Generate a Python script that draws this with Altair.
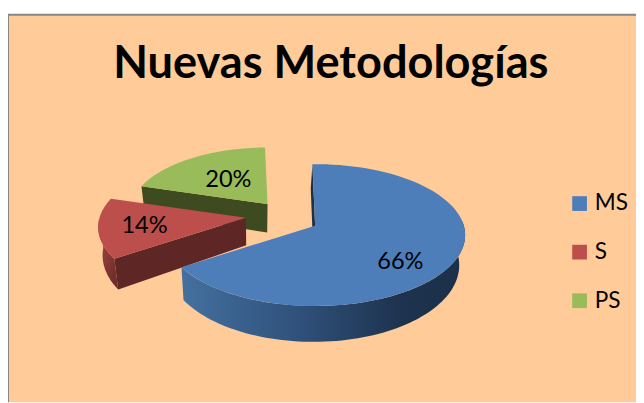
import math
import altair as alt

# ---- values ----
CATEGORIES = ["MS", "S", "PS"]
PERCENTS = [66, 14, 20]
COLORS = ["#4D7EBA", "#BC4E4B", "#9ABB59"]
TITLE = "Nuevas Metodologías"

# ---- layout (view coordinates: page minus OX, OY) ----
OX, OY = 2, 12
A, B, K = 151.5, 71.0, 0.133      # pie projection: half width, half height, perspective
START = -1.2                      # first slice start angle (degrees clockwise from top)
APEX = {"MS": (315, 227), "S": (244.5, 219), "PS": (266.5, 205)}
SCALE = {"MS": 1.0, "S": 0.985, "PS": 0.92}
DEPTH = {"MS": 30, "S": 28, "PS": 29}
LABEL_R = {"MS": 0.70, "S": 0.69, "PS": 0.54}
LABEL_DT = {"MS": 12, "S": 2, "PS": 3}
FONT = "Lato"

# slice angle spans from the values
spans = {}
a = START
for c, p in zip(CATEGORIES, PERCENTS):
    spans[c] = (a, a + p * 3.6)
    a += p * 3.6


def pt(cat, deg, r=1.0):
    t = math.radians(deg)
    u, v = math.sin(t) * r, -math.cos(t) * r
    d = 1 - K * v
    ax, ay = APEX[cat]
    s = SCALE[cat]
    return (ax + s * A * u / d - OX, ay + s * B * v / d - OY)


def low(cat, p):
    ay = APEX[cat][1] - OY
    x, y = p
    return (x + (251 - x) * 0.028, y + DEPTH[cat] + 0.08 * (y - ay))


def arc(cat, a0, a1, n=80):
    return [pt(cat, a0 + (a1 - a0) * i / n) for i in range(n + 1)]


def feature(points, cat=""):
    ring = [list(p) for p in points] + [list(points[0])]
    return {"type": "Feature", "properties": {"cat": cat},
            "geometry": {"type": "Polygon", "coordinates": [ring]}}


def data(feats):
    return alt.InlineData(values={"type": "FeatureCollection", "features": feats},
                          format=alt.DataFormat(type="json", property="features"))


def wedge(cat):
    a0, a1 = spans[cat]
    return [pt(cat, 0, 0)] + arc(cat, a0, a1)


def radial_face(cat, deg):
    ap, rim = pt(cat, 0, 0), pt(cat, deg)
    return [ap, rim, low(cat, rim), low(cat, ap)]


def outer_wall(cat, a0, a1):
    top = arc(cat, a0, a1)
    return top + [low(cat, p) for p in reversed(top)]


def grad(stops, x1=0, x2=1, y1=0, y2=0):
    return {"gradient": "linear", "x1": x1, "x2": x2, "y1": y1, "y2": y2,
            "stops": [{"offset": o, "color": c} for o, c in stops]}


color = alt.Color(
    "properties.cat:N",
    scale=alt.Scale(domain=CATEGORIES, range=COLORS),
    legend=alt.Legend(
        title=None, orient="none", legendX=571, legendY=181, padding=0,
        symbolType="square", symbolSize=225, symbolStrokeWidth=0,
        labelFont=FONT, labelFontSize=23, labelColor="#000000",
        labelOffset=4, rowPadding=25.5, labelLimit=80,
    ),
)


def project(ch):
    return ch.project(type="identity", scale=1, translate=[0, 0])


def wall(feats, fill):
    return project(alt.Chart(data(feats)).mark_geoshape(fill=fill, strokeWidth=0))


def top(cat):
    return project(alt.Chart(data([feature(wedge(cat), cat)])).mark_geoshape(strokeWidth=0).encode(color=color))


layers = [
    # green
    wall([feature(radial_face("PS", spans["PS"][0]))], "#3E4A20"),
    top("PS"),
    # red
    wall([feature(outer_wall("S", spans["S"][0], 268))], grad([(0, "#AE4A48"), (1, "#6E2D2B")], x1=0, x2=0.6, y1=0, y2=1)),
    wall([feature(radial_face("S", spans["S"][0]))], "#5E2624"),
    top("S"),
    # blue
    wall([feature(radial_face("MS", spans["MS"][0]))], "#1C3148"),
    wall([feature(outer_wall("MS", 85, spans["MS"][1]))],
         grad([(0, "#1C3049"), (0.22, "#1D324D"), (0.6, "#30527C"), (1, "#44709F")], x1=1, x2=0)),
    top("MS"),
]

# data labels placed from the slice angles
label_rows = []
for c, p in zip(CATEGORIES, PERCENTS):
    mid = sum(spans[c]) / 2 + LABEL_DT[c]
    x, y = pt(c, mid, LABEL_R[c])
    label_rows.append({"label": f"{p}%", "x": x, "y": y})

labels = alt.Chart(alt.Data(values=label_rows)).mark_text(
    font=FONT, fontSize=24, color="#000000", baseline="middle", align="center", dy=3
).encode(
    x=alt.X("x:Q", scale=None), y=alt.Y("y:Q", scale=None), text="label:N"
)

border_top = alt.Chart(alt.Data(values=[{"a": 1}])).mark_rule(color="#868686", strokeWidth=2).encode(
    x=alt.value(0), x2=alt.value(640), y=alt.value(0))
border_left = alt.Chart(alt.Data(values=[{"a": 1}])).mark_rule(color="#868686", strokeWidth=2).encode(
    y=alt.value(0), y2=alt.value(395), x=alt.value(0))

chart = alt.layer(*layers, labels, border_top, border_left).resolve_scale(color="shared").properties(
    width=640, height=395,
    autosize=alt.AutoSizeParams(type="none"),
    padding={"left": 0, "top": 3, "right": 0, "bottom": 0},
    background="#FFFFFF",
    title=alt.TitleParams(TITLE, font=FONT, fontSize=46, fontWeight="bold", color="#000000",
                          anchor="middle", frame="group", offset=0, dx=9, dy=112, baseline="alphabetic"),
).configure_view(fill="#FECB99", strokeWidth=0)

chart.save("out.html", embed_options={"renderer": "svg", "actions": False})
